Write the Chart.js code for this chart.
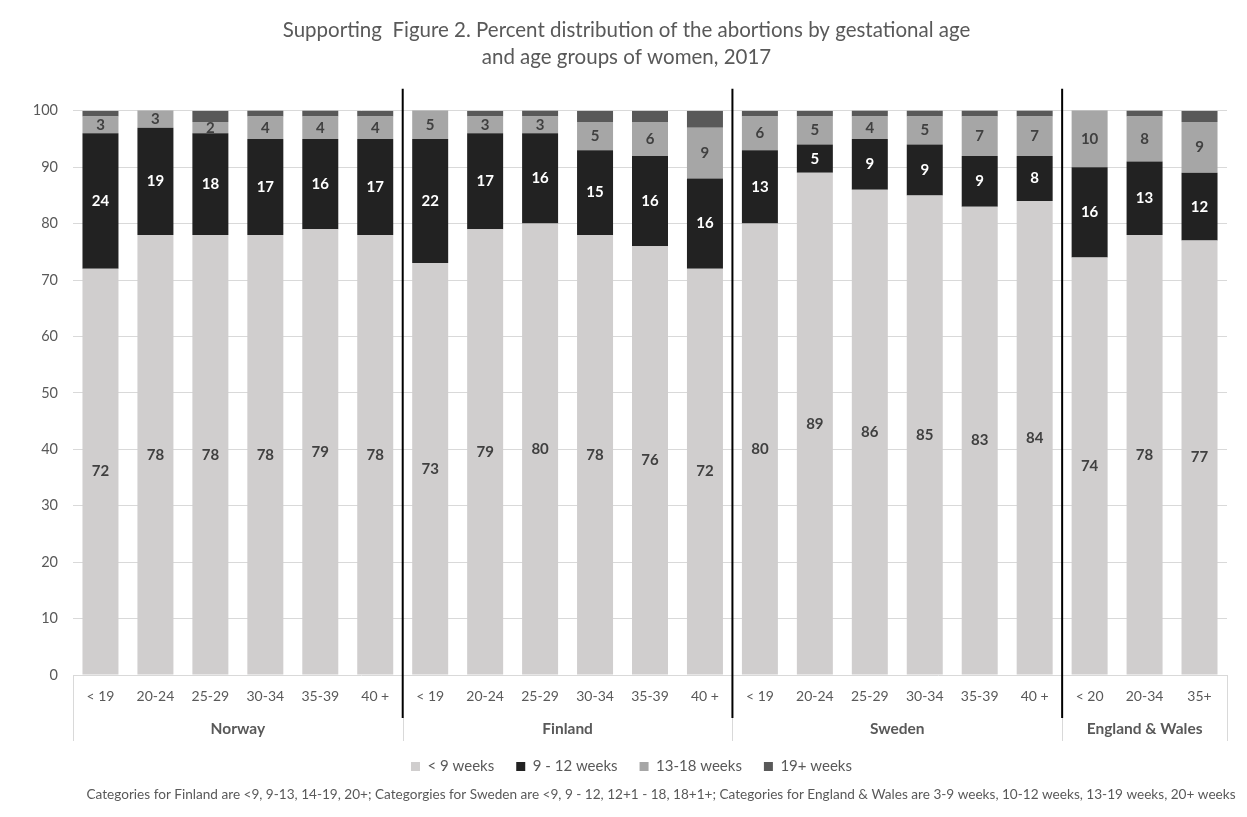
<!DOCTYPE html>
<html>
<head>
<meta charset="utf-8">
<title>Abortions by gestational age, 2017</title>
<script src="https://cdn.jsdelivr.net/npm/chart.js@4.4.1/dist/chart.umd.min.js"></script>
<style>
    html, body { margin: 0; padding: 0; background: #ffffff; }
    #wrap { width: 1247px; height: 817px; position: relative; }
</style>
</head>
<body>
<div id="wrap"><canvas id="myChart"></canvas></div>
<script>
// age groups per country, in drawing order
var ageGroups = [
    "< 19", "20-24", "25-29", "30-34", "35-39", "40 +",
    "< 19", "20-24", "25-29", "30-34", "35-39", "40 +",
    "< 19", "20-24", "25-29", "30-34", "35-39", "40 +",
    "< 20", "20-34", "35+"
];
var countries = ["Norway", "Finland", "Sweden", "England & Wales"];
var groupSizes = [6, 6, 6, 3];

// percent of abortions in each gestational age band
var under9Weeks = [72, 78, 78, 78, 79, 78, 73, 79, 80, 78, 76, 72, 80, 89, 86, 85, 83, 84, 74, 78, 77];
var weeks9to12 = [24, 19, 18, 17, 16, 17, 22, 17, 16, 15, 16, 16, 13, 5, 9, 9, 9, 8, 16, 13, 12];
var weeks13to18 = [3, 3, 2, 4, 4, 4, 5, 3, 3, 5, 6, 9, 6, 5, 4, 5, 7, 7, 10, 8, 9];
var weeks19plus = [1, 0.8, 2, 1.5, 1.5, 1, 0.3, 1, 1.5, 2, 2, 3, 1, 1, 1.3, 1.5, 1.5, 1.2, 0.2, 1.4, 2];

var yTicks = [0, 10, 20, 30, 40, 50, 60, 70, 80, 90, 100];

var footnote = "Categories for Finland are <9, 9-13, 14-19, 20+; Categorgies for Sweden are <9, 9 - 12, 12+1 - 18, 18+1+; " +
    "Categories for England & Wales are 3-9 weeks, 10-12 weeks, 13-19 weeks, 20+ weeks";

var textGrey = "#595959";
var fontFamily = "Lato, 'Open Sans', sans-serif";

// numbers inside the stacked segments
var segmentLabels = {
    id: 'segmentLabels',
    afterDatasetsDraw: function (chart) {
        var ctx = chart.ctx;
        ctx.save();
        ctx.font = "bold 15px " + fontFamily;
        ctx.textAlign = 'center';
        ctx.textBaseline = 'middle';
        chart.data.datasets.forEach(function (ds, i) {
            if (!ds.labelColor) return;
            chart.getDatasetMeta(i).data.forEach(function (bar, j) {
                var c = bar.getCenterPoint();
                ctx.fillStyle = ds.labelColor;
                ctx.fillText(ds.data[j], c.x, c.y);
            });
        });
        ctx.restore();
    }
};

// title and legend sit a little right of the canvas centre
var boxShift = {
    id: 'boxShift',
    afterLayout: function (chart) {
        chart.legend.left += 36;
        chart.titleBlock.left += 26;
    }
};

// country row under the age labels, divider lines and the note at the bottom
var countryAxis = {
    id: 'countryAxis',
    afterDraw: function (chart) {
        var ctx = chart.ctx, x = chart.scales.x, area = chart.chartArea;
        var step = x.getPixelForValue(1) - x.getPixelForValue(0);
        var edges = [x.getPixelForValue(0) - step / 2];
        var n = 0;
        groupSizes.forEach(function (size) {
            n += size;
            edges.push(x.getPixelForValue(n - 1) + step / 2);
        });

        ctx.save();
        ctx.strokeStyle = "#d9d9d9";
        ctx.lineWidth = 1;
        edges.forEach(function (ex, k) {
            var top = (k === 0 || k === edges.length - 1) ? area.bottom : area.bottom + 43;
            ctx.beginPath();
            ctx.moveTo(Math.round(ex) + 0.5, top);
            ctx.lineTo(Math.round(ex) + 0.5, area.bottom + 66);
            ctx.stroke();
        });

        ctx.strokeStyle = "#000000";
        ctx.lineWidth = 2;
        edges.slice(1, -1).forEach(function (ex) {
            ctx.beginPath();
            ctx.moveTo(ex, area.top - 22);
            ctx.lineTo(ex, area.bottom + 43);
            ctx.stroke();
        });

        ctx.fillStyle = textGrey;
        ctx.font = "bold 15.5px " + fontFamily;
        ctx.textAlign = 'center';
        ctx.textBaseline = 'middle';
        countries.forEach(function (name, k) {
            ctx.fillText(name, (edges[k] + edges[k + 1]) / 2, area.bottom + 54);
        });

        ctx.font = "13.6px " + fontFamily;
        ctx.fillText(footnote, 661, 795);
        ctx.restore();
    }
};

var ctx = document.getElementById("myChart");
var myChart = new Chart(ctx, {
    type: 'bar',
    data: {
        labels: ageGroups,
        datasets: [
            { label: "< 9 weeks", data: under9Weeks, backgroundColor: "#d0cece", labelColor: "#404040" },
            { label: "9 - 12 weeks", data: weeks9to12, backgroundColor: "#222222", labelColor: "#ffffff" },
            { label: "13-18 weeks", data: weeks13to18, backgroundColor: "#a6a6a6", labelColor: "#404040" },
            { label: "19+ weeks", data: weeks19plus, backgroundColor: "#595959" }
        ]
    },
    options: {
        responsive: true,
        maintainAspectRatio: false,
        animation: false,
        categoryPercentage: 1,
        barPercentage: 0.655,
        layout: { padding: { left: 0, right: 20, top: 0, bottom: 33 } },
        plugins: {
            title: {
                display: true,
                text: ["Supporting  Figure 2. Percent distribution of the abortions by gestational age",
                       "and age groups of women, 2017"],
                color: textGrey,
                font: { family: fontFamily, size: 20.5, weight: 'normal', lineHeight: 1.36 },
                padding: { top: 16, bottom: 39 }
            },
            legend: {
                position: 'bottom',
                labels: {
                    boxWidth: 9,
                    boxHeight: 9,
                    padding: 22,
                    color: textGrey,
                    font: { family: fontFamily, size: 15 }
                }
            },
            tooltip: { enabled: false }
        },
        scales: {
            x: {
                stacked: true,
                grid: { display: false, drawTicks: false },
                border: { display: false },
                ticks: {
                    color: textGrey,
                    font: { family: fontFamily, size: 14 },
                    padding: 13,
                    maxRotation: 0,
                    autoSkip: false
                },
                afterFit: function (scale) { scale.height = 62; }
            },
            y: {
                stacked: true,
                min: 0,
                max: 100,
                afterBuildTicks: function (scale) {
                    scale.ticks = yTicks.map(function (v) { return { value: v }; });
                },
                grid: { color: "#d9d9d9", drawTicks: false },
                border: { display: false },
                ticks: {
                    color: textGrey,
                    font: { family: fontFamily, size: 14.5 },
                    padding: 15
                },
                afterFit: function (scale) { scale.width = 73; }
            }
        }
    },
    plugins: [segmentLabels, countryAxis, boxShift]
});
</script>
</body>
</html>
